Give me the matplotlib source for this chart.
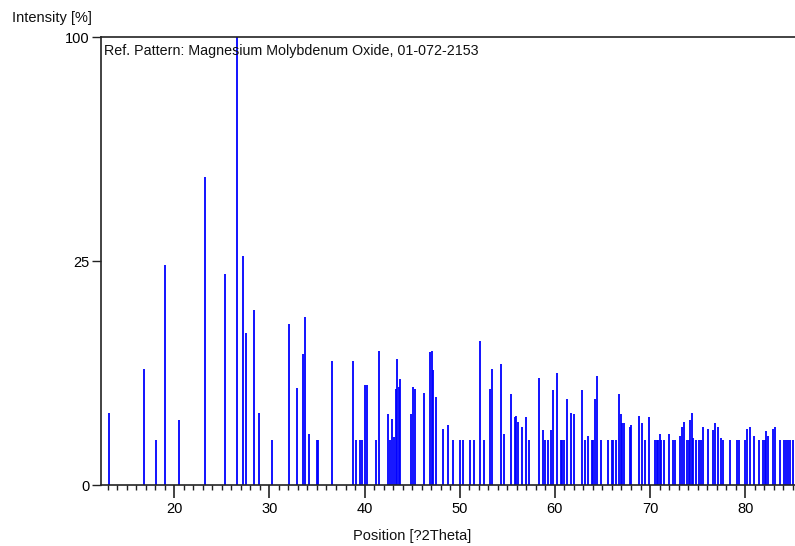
import numpy as np
import matplotlib
matplotlib.use("Agg")
import matplotlib.pyplot as plt
from matplotlib.ticker import FixedLocator, MultipleLocator

plt.rcParams['font.family'] = ['Liberation Sans', 'DejaVu Sans']

# Reference pattern peaks: position (2theta, degrees) and relative intensity (%)
positions = [
    13.1, 16.8, 18.05, 19.0, 20.5, 23.25, 25.35, 26.55, 27.2, 27.55,
    28.35, 28.95, 30.25, 32.1, 32.85, 33.5, 33.7, 34.2, 34.95, 35.15,
    36.6, 38.75, 39.1, 39.55, 39.75, 40.05, 40.25, 41.2, 41.5, 42.5,
    42.65, 42.85, 43.1, 43.3, 43.45, 43.6, 43.77, 44.9, 45.05, 45.25,
    46.2, 46.9, 47.05, 47.2, 47.5, 48.2, 48.8, 49.3, 50.0, 50.3,
    51.1, 51.45, 52.1, 52.6, 53.2, 53.4, 54.35, 54.7, 55.35, 55.8,
    55.95, 56.15, 56.5, 57.0, 57.3, 58.3, 58.75, 58.95, 59.3, 59.55,
    59.75, 60.25, 60.6, 60.8, 60.95, 61.3, 61.65, 62.05, 62.8, 63.15,
    63.45, 63.85, 64.05, 64.2, 64.45, 64.8, 65.6, 65.95, 66.1, 66.4,
    66.75, 66.9, 67.05, 67.3, 67.9, 68.05, 68.85, 69.2, 69.5, 69.85,
    70.5, 70.7, 70.85, 71.0, 71.2, 71.45, 71.95, 72.4, 72.65, 73.2,
    73.4, 73.6, 73.9, 74.1, 74.2, 74.4, 74.55, 74.85, 75.1, 75.4,
    75.55, 76.05, 76.65, 76.85, 77.15, 77.5, 77.65, 78.45, 79.1, 79.4,
    79.95, 80.2, 80.55, 80.9, 81.4, 81.9, 82.05, 82.2, 82.35, 82.9,
    83.1, 83.7, 84.1, 84.3, 84.5, 84.7, 85.05,
]
intensities = [
    2.6, 6.7, 1.0, 24.1, 2.1, 47.4, 22.1, 100.0, 26.2, 11.5,
    15.3, 2.6, 1.0, 12.9, 4.7, 8.6, 14.0, 1.3, 1.0, 1.0,
    7.7, 7.7, 1.0, 1.0, 1.0, 5.0, 5.0, 1.0, 8.9, 2.5,
    1.0, 2.2, 1.15, 4.6, 7.9, 4.75, 5.6, 2.5, 4.75, 4.6,
    4.2, 8.85, 9.0, 6.55, 3.9, 1.55, 1.8, 1.0, 1.0, 1.0,
    1.0, 1.0, 10.4, 1.0, 4.6, 6.7, 7.3, 1.3, 4.15, 2.3,
    2.4, 2.0, 1.7, 2.3, 1.0, 5.7, 1.5, 1.0, 1.0, 1.5,
    4.5, 6.2, 1.0, 1.0, 1.0, 3.7, 2.6, 2.5, 4.5, 1.0,
    1.2, 1.0, 1.0, 3.7, 5.9, 1.0, 1.0, 1.0, 1.0, 1.0,
    4.15, 2.5, 1.9, 1.9, 1.65, 1.8, 2.4, 1.9, 1.0, 2.3,
    1.0, 1.0, 1.0, 1.3, 1.0, 1.0, 1.3, 1.0, 1.0, 1.2,
    1.7, 2.0, 1.0, 1.0, 2.1, 2.6, 1.1, 1.0, 1.0, 1.0,
    1.65, 1.55, 1.5, 1.9, 1.7, 1.1, 1.0, 1.0, 1.0, 1.0,
    1.0, 1.55, 1.65, 1.2, 1.0, 1.0, 1.0, 1.45, 1.2, 1.55,
    1.65, 1.0, 1.0, 1.0, 1.0, 1.0, 1.0,
]
y_ticks = [0, 25, 100]
x_ticks = [20, 30, 40, 50, 60, 70, 80]
title_text = "Ref. Pattern: Magnesium Molybdenum Oxide, 01-072-2153"

fig = plt.figure(figsize=(7.95, 5.46), dpi=100)
ax = fig.add_axes([0.127, 0.1117, 0.875, 0.8205])

ax.vlines(positions, 0, intensities, color='#0000ff', linewidth=1.3)

# square-root intensity axis
ax.set_yscale('function', functions=(lambda y: np.sqrt(np.clip(y, 0, None)),
                                     lambda y: np.asarray(y) ** 2))
ax.set_ylim(0, 100)
ax.set_xlim(12.3, 85.4)

ax.yaxis.set_major_locator(FixedLocator(y_ticks))
ax.yaxis.set_minor_locator(FixedLocator([]))
ax.xaxis.set_major_locator(FixedLocator(x_ticks))
ax.xaxis.set_minor_locator(MultipleLocator(1))

ax.tick_params(axis='x', which='major', length=9, width=1.2, direction='out',
               labelsize=10.5, pad=3, color='#222222')
ax.tick_params(axis='x', which='minor', length=3.6, width=1.0, direction='out',
               color='#222222')
ax.tick_params(axis='y', which='major', length=6.5, width=1.0, direction='out',
               labelsize=10.5, pad=1.5, color='#222222')

for side in ('left', 'bottom', 'top'):
    ax.spines[side].set_color('#222222')
    ax.spines[side].set_linewidth(1.2)
ax.spines['right'].set_visible(False)

ax.text(0.004, 0.985, title_text, transform=ax.transAxes, ha='left', va='top',
        fontsize=10.3, color='#111111')

fig.text(12 / 795, 1 - 18 / 546, "Intensity [%]", ha='left', va='center',
         fontsize=10.5, color='#111111')
fig.text(412 / 795, 1 - 536 / 546, "Position [?2Theta]", ha='center',
         va='center', fontsize=10.5, color='#111111')

fig.savefig("out.png", dpi=100)
